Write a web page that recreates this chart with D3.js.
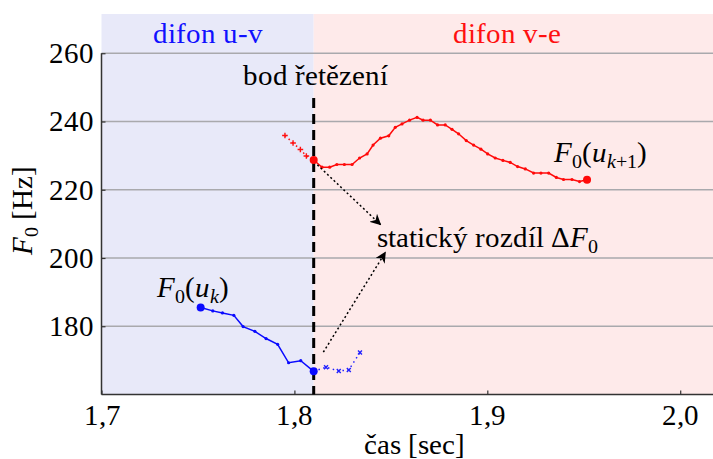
<!DOCTYPE html>
<html>
<head>
<meta charset="utf-8">
<script src="https://cdn.jsdelivr.net/npm/d3@7"></script>
<style>
  @font-face { font-family: "ChartSerif"; font-style: normal; font-weight: 400;
    src: local("Liberation Serif"), local("LiberationSerif"), local("Tinos"), local("Times New Roman"); }
  @font-face { font-family: "ChartSerif"; font-style: italic; font-weight: 400;
    src: local("Liberation Serif Italic"), local("LiberationSerif-Italic"), local("Tinos Italic"), local("Times New Roman Italic"); }
  body { margin: 0; }
  #chart text { font-family: "ChartSerif", "Liberation Serif", "Times New Roman", serif; }
</style>
</head>
<body>
<svg id="chart" width="713" height="459"></svg>
<script>
// Time axis (seconds) and F0 axis (Hz)
const xTicks = [1.7, 1.8, 1.9, 2.0];
const xTickLabels = ["1,7", "1,8", "1,9", "2,0"];
const yTicks = [180, 200, 220, 240, 260];
const yTickLabels = ["180", "200", "220", "240", "260"];

// Concatenation point between the two diphones
const joinTime = 1.81;

// Diphone u-v: F0 contour of unit u_k
const uvTime = [1.7514, 1.7577, 1.7627, 1.7686, 1.7734, 1.7795, 1.7853, 1.7913, 1.797, 1.8033, 1.81];
const uvF0   = [185.5, 184.5, 183.9, 183.2, 179.9, 178.5, 176.4, 174.7, 169.3, 169.9, 166.8];
// ... its continuation past the join (not used)
const uvTailTime = [1.81, 1.8164, 1.823, 1.8282, 1.834];
const uvTailF0   = [166.8, 168.0, 166.9, 167.2, 172.3];

// Diphone v-e: F0 contour of unit u_{k+1}
const veTime = [1.81, 1.8143, 1.8183, 1.822, 1.8259, 1.8299, 1.8338, 1.8377, 1.8408, 1.8446,
                1.8489, 1.8523, 1.8558, 1.8597, 1.8636, 1.8667, 1.8705, 1.8742, 1.8782, 1.8817,
                1.8851, 1.8891, 1.8929, 1.8967, 1.9002, 1.9041, 1.9081, 1.9119, 1.9157, 1.9197,
                1.924, 1.9278, 1.9318, 1.9358, 1.9395, 1.9439, 1.9478, 1.9517];
const veF0   = [228.7, 226.6, 226.6, 227.4, 227.4, 227.4, 229.3, 230.5, 233.1, 235.1,
                235.8, 238.3, 239.3, 240.4, 241.2, 240.4, 240.4, 239.0, 239.0, 237.7,
                236.4, 234.4, 233.1, 231.9, 230.5, 229.3, 228.6, 228.0, 226.8, 226.1,
                224.9, 224.9, 224.9, 223.6, 223.0, 223.0, 222.4, 222.9];
// ... its part before the join (not used)
const veHeadTime = [1.7951, 1.7993, 1.8031, 1.8062, 1.81];
const veHeadF0   = [235.9, 233.7, 231.8, 229.9, 228.7];

// Arrows pointing to the "static difference" label: [t0, f0, t1, f1]
const arrowTop    = [1.8119, 227.3, 1.8446, 209.8];
const arrowBottom = [1.815, 172.4, 1.8471, 201.6];

const xDomainMax = 2.017;
const yDomain = [160, 271.5];

const FONT = 29;
const SUB = 20;

const svg = d3.select("#chart");
const x = d3.scaleLinear().domain([1.7, xDomainMax]).range([101.5, 713]);
const y = d3.scaleLinear().domain(yDomain).range([394.5, 14]);

function addText(parent) {
  return parent.append("text").attr("font-size", FONT);
}

// Background regions of the two diphones
svg.append("rect")
  .attr("x", x(1.7)).attr("y", y(yDomain[1]))
  .attr("width", x(joinTime) - x(1.7)).attr("height", y(yDomain[0]) - y(yDomain[1]))
  .attr("fill", "#e8e9f9");
svg.append("rect")
  .attr("x", x(joinTime)).attr("y", y(yDomain[1]))
  .attr("width", x(xDomainMax) - x(joinTime)).attr("height", y(yDomain[0]) - y(yDomain[1]))
  .attr("fill", "#feeaea");

// Horizontal grid
svg.append("g").selectAll("line").data(yTicks).join("line")
  .attr("x1", x(1.7)).attr("x2", x(xDomainMax))
  .attr("y1", d => y(d)).attr("y2", d => y(d))
  .attr("stroke", "#a9a9ad").attr("stroke-width", 1.5);

// Axes
const yAxis = d3.axisLeft(y).tickValues(yTicks).tickSize(-4).tickPadding(8)
  .tickFormat((d, i) => yTickLabels[i]);
const gy = svg.append("g").attr("transform", `translate(${x(1.7)},0)`).call(yAxis);
gy.attr("font-family", null).attr("font-size", FONT);
gy.select(".domain").attr("d", `M0,${y(260)}V${y(160)}`).attr("stroke", "#333").attr("stroke-width", 1.5);
gy.selectAll(".tick line").attr("stroke", "#333").attr("stroke-width", 1.2);
gy.selectAll(".tick text").attr("fill", "#000");

const xAxis = d3.axisBottom(x).tickValues(xTicks).tickSize(-4).tickPadding(10)
  .tickFormat((d, i) => xTickLabels[i]);
const gx = svg.append("g").attr("transform", `translate(0,${y(160)})`).call(xAxis);
gx.attr("font-family", null).attr("font-size", FONT);
gx.select(".domain").attr("d", `M${x(1.7)},0H${x(xDomainMax)}`).attr("stroke", "#333").attr("stroke-width", 1.5);
gx.selectAll(".tick line").attr("stroke", "#333").attr("stroke-width", 1.2);
gx.selectAll(".tick text").attr("fill", "#000");

// Axis titles
addText(svg)
  .attr("x", 414).attr("y", 454)
  .attr("text-anchor", "middle")
  .text("čas [sec]");

const yl = addText(svg)
  .attr("transform", "translate(32,210) rotate(-90)")
  .attr("text-anchor", "middle");
yl.append("tspan").attr("font-style", "italic").text("F");
yl.append("tspan").attr("font-size", SUB).attr("dy", 6).text("0");
yl.append("tspan").attr("dy", -6).text(" [Hz]");

// Concatenation point marker line
svg.append("line")
  .attr("x1", x(joinTime)).attr("x2", x(joinTime))
  .attr("y1", 98).attr("y2", y(160))
  .attr("stroke", "#000").attr("stroke-width", 3)
  .attr("stroke-dasharray", "10,6");

// Region titles
addText(svg)
  .attr("x", (x(1.7) + x(joinTime)) / 2).attr("y", 43)
  .attr("text-anchor", "middle").attr("fill", "#1010ff")
  .text("difon u-v");
addText(svg)
  .attr("x", 507).attr("y", 43)
  .attr("text-anchor", "middle").attr("fill", "#ff1010")
  .text("difon v-e");
addText(svg)
  .attr("x", x(joinTime) + 2).attr("y", 85)
  .attr("text-anchor", "middle").attr("fill", "#000")
  .text("bod řetězení");

const line = d3.line().x(d => x(d[0])).y(d => y(d[1]));
const zip = (a, b) => a.map((v, i) => [v, b[i]]);

// Unused parts drawn dotted with cross / plus markers
function drawTail(pts, color, shape) {
  svg.append("path").datum(pts).attr("d", line)
    .attr("fill", "none").attr("stroke", color).attr("stroke-width", 1.5)
    .attr("stroke-dasharray", "1.5,3.5");
  const marks = shape === "x" ? pts.slice(1) : pts.slice(0, -1);
  const s = 2.8;
  svg.append("g").selectAll("path").data(marks).join("path")
    .attr("transform", d => `translate(${x(d[0])},${y(d[1])})${shape === "x" ? " rotate(45)" : ""}`)
    .attr("d", `M${-s},0H${s}M0,${-s}V${s}`)
    .attr("fill", "none").attr("stroke", color).attr("stroke-width", 1.4);
}

function drawContour(pts, color, bigIdx) {
  svg.append("path").datum(pts).attr("d", line)
    .attr("fill", "none").attr("stroke", color).attr("stroke-width", 1.5);
  svg.append("g").selectAll("circle").data(pts).join("circle")
    .attr("cx", d => x(d[0])).attr("cy", d => y(d[1]))
    .attr("r", (d, i) => bigIdx.includes(i) ? 4 : 1.6)
    .attr("fill", color);
}

const uvPts = zip(uvTime, uvF0);
const vePts = zip(veTime, veF0);
drawTail(zip(uvTailTime, uvTailF0), "#2020ff", "x");
drawTail(zip(veHeadTime, veHeadF0), "#ff1010", "+");
drawContour(uvPts, "#0a0aff", [0, uvPts.length - 1]);
drawContour(vePts, "#ff0a0a", [0, vePts.length - 1]);

// Arrow heads
const defs = svg.append("defs");
defs.append("marker")
  .attr("id", "head").attr("viewBox", "0 0 10 10")
  .attr("refX", 9).attr("refY", 5)
  .attr("markerWidth", 11).attr("markerHeight", 11)
  .attr("markerUnits", "userSpaceOnUse")
  .attr("orient", "auto")
  .append("path").attr("d", "M0,0 L10,5 L0,10 L3,5 Z").attr("fill", "#000");

[arrowTop, arrowBottom].forEach(a => {
  svg.append("line")
    .attr("x1", x(a[0])).attr("y1", y(a[1]))
    .attr("x2", x(a[2])).attr("y2", y(a[3]))
    .attr("stroke", "#000").attr("stroke-width", 1.5)
    .attr("stroke-dasharray", "2,2.5")
    .attr("marker-end", "url(#head)");
});

// Annotations
const lblK = addText(svg).attr("x", 157).attr("y", 297);
lblK.append("tspan").attr("font-style", "italic").text("F");
lblK.append("tspan").attr("font-size", SUB).attr("dy", 6).text("0");
lblK.append("tspan").attr("dy", -6).text("(");
lblK.append("tspan").attr("font-style", "italic").text("u");
lblK.append("tspan").attr("font-style", "italic").attr("font-size", SUB).attr("dy", 6).text("k");
lblK.append("tspan").attr("dy", -6).text(")");

const lblK1 = addText(svg).attr("x", 554).attr("y", 162);
lblK1.append("tspan").attr("font-style", "italic").text("F");
lblK1.append("tspan").attr("font-size", SUB).attr("dy", 6).text("0");
lblK1.append("tspan").attr("dy", -6).text("(");
lblK1.append("tspan").attr("font-style", "italic").text("u");
lblK1.append("tspan").attr("font-style", "italic").attr("font-size", SUB).attr("dy", 6).text("k");
lblK1.append("tspan").attr("font-size", SUB).text("+1");
lblK1.append("tspan").attr("dy", -6).text(")");

const lblD = addText(svg).attr("x", 377).attr("y", 247);
lblD.append("tspan").text("statický rozdíl Δ");
lblD.append("tspan").attr("font-style", "italic").text("F");
lblD.append("tspan").attr("font-size", SUB).attr("dy", 6).text("0");
</script>
</body>
</html>
